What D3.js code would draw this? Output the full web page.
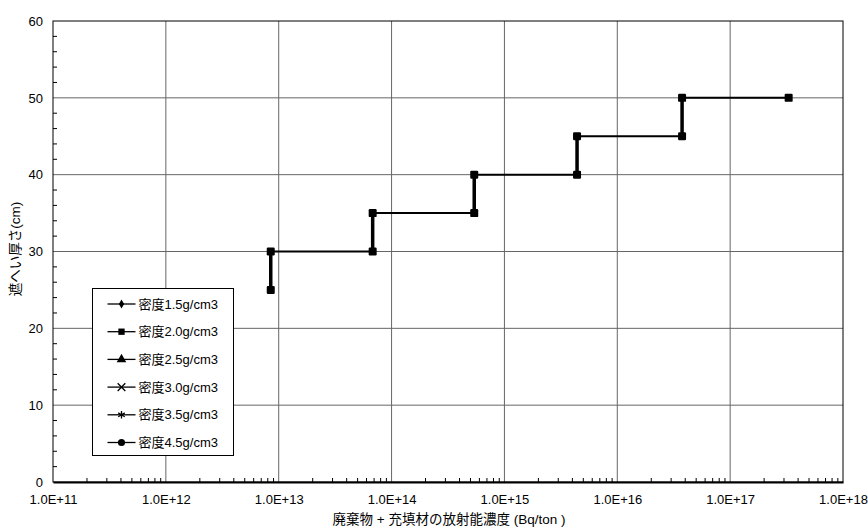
<!DOCTYPE html>
<html>
<head>
<meta charset="utf-8">
<script src="https://cdn.jsdelivr.net/npm/d3@7"></script>
<style>
  body { margin: 0; background: #fff; }
  svg text { font-family: "Liberation Sans", Arial, "Noto Sans CJK JP", sans-serif; fill: #000; }
</style>
</head>
<body>
<div id="chart"></div>
<script>
// step curve of shield thickness vs activity concentration
const concValues = [8.5e12, 8.5e12, 6.8e13, 6.8e13, 5.4e14, 5.4e14, 4.4e15, 4.4e15, 3.75e16, 3.75e16, 3.3e17];
const thickValues = [25, 30, 30, 35, 35, 40, 40, 45, 45, 50, 50];
const xTickValues = [1e11, 1e12, 1e13, 1e14, 1e15, 1e16, 1e17, 1e18];
const yTickValues = [0, 10, 20, 30, 40, 50, 60];
const legendLabels = ["密度1.5g/cm3", "密度2.0g/cm3", "密度2.5g/cm3", "密度3.0g/cm3", "密度3.5g/cm3", "密度4.5g/cm3"];
const legendSymbols = ["diamond", "square", "triangle", "x", "star", "circle"];

const width = 868, height = 529;
const margin = { top: 21, right: 25, bottom: 47, left: 53 };
const innerW = width - margin.left - margin.right;
const innerH = height - margin.top - margin.bottom;

const svg = d3.select("#chart").append("svg")
  .attr("width", width).attr("height", height);

const chart = svg.append("g")
  .attr("transform", `translate(${margin.left},${margin.top})`);

const xScale = d3.scaleLog().domain([1e11, 1e18]).range([0, innerW]);
const yScale = d3.scaleLinear().domain([0, 60]).range([innerH, 0]);

// gridlines
chart.append("g").selectAll("line")
  .data(xTickValues.slice(1, -1))
  .join("line")
  .attr("x1", d => xScale(d)).attr("x2", d => xScale(d))
  .attr("y1", 0).attr("y2", innerH)
  .attr("stroke", "#666").attr("stroke-width", 1);

chart.append("g").selectAll("line")
  .data(yTickValues.slice(1, -1))
  .join("line")
  .attr("x1", 0).attr("x2", innerW)
  .attr("y1", d => yScale(d)).attr("y2", d => yScale(d))
  .attr("stroke", "#666").attr("stroke-width", 1);

// plot border
chart.append("rect")
  .attr("width", innerW).attr("height", innerH)
  .attr("fill", "none").attr("stroke", "#000").attr("stroke-width", 1);

// minor ticks (inside)
const yMinor = d3.range(0, 61, 2).filter(v => v % 10 !== 0);
chart.append("g").selectAll("line")
  .data(yMinor)
  .join("line")
  .attr("x1", 0).attr("x2", 4)
  .attr("y1", d => yScale(d)).attr("y2", d => yScale(d))
  .attr("stroke", "#000");

const xMinor = [];
for (let e = 11; e < 18; e++) for (let m = 2; m <= 9; m++) xMinor.push(m * Math.pow(10, e));
chart.append("g").selectAll("line")
  .data(xMinor)
  .join("line")
  .attr("x1", d => xScale(d)).attr("x2", d => xScale(d))
  .attr("y1", innerH).attr("y2", innerH - 4)
  .attr("stroke", "#000");

// axes
const xAxis = d3.axisBottom(xScale).tickValues(xTickValues).tickSize(0)
  .tickFormat(d => "1.0E+" + Math.round(Math.log10(d)));
const yAxis = d3.axisLeft(yScale).tickValues(yTickValues).tickSize(0);

chart.append("g")
  .attr("transform", `translate(0,${innerH})`)
  .call(xAxis)
  .call(g => g.select(".domain").attr("stroke", "#000").attr("stroke-width", 2))
  .call(g => g.selectAll("text").attr("y", 13).attr("dy", "0.71em").attr("font-size", 13)
    .style("font-family", "'Liberation Sans', Arial, sans-serif"));

chart.append("g")
  .call(yAxis)
  .call(g => g.select(".domain").remove())
  .call(g => g.selectAll("text").attr("x", -10).attr("font-size", 13)
    .style("font-family", "'Liberation Sans', Arial, sans-serif"));

// data line
const pts = concValues.map((c, i) => ({ x: c, y: thickValues[i] }));
const line = d3.line().x(d => xScale(d.x)).y(d => yScale(d.y));

chart.append("path")
  .datum(pts)
  .attr("d", line)
  .attr("fill", "none").attr("stroke", "#000").attr("stroke-width", 2);

// vertical risers drawn heavier (overlapping series)
const risers = pts.slice(1).map((p, i) => [pts[i], p]).filter(([a, b]) => a.x === b.x);
chart.append("g").selectAll("path")
  .data(risers)
  .join("path")
  .attr("d", line)
  .attr("stroke", "#000").attr("stroke-width", 3.5);

chart.append("g").selectAll("rect")
  .data(pts)
  .join("rect")
  .attr("x", d => xScale(d.x) - 4).attr("y", d => yScale(d.y) - 4)
  .attr("width", 8).attr("height", 8).attr("rx", 1.2)
  .attr("fill", "#000");

// legend
const legend = svg.append("g").attr("transform", "translate(92.5,288.5)");
legend.append("rect")
  .attr("width", 141).attr("height", 167)
  .attr("fill", "#fff").attr("stroke", "#000").attr("stroke-width", 1);

const symbolMap = {
  diamond: d3.symbolDiamond, square: d3.symbolSquare, triangle: d3.symbolTriangle,
  x: d3.symbolTimes, star: d3.symbolAsterisk, circle: d3.symbolCircle
};

const items = legend.selectAll("g.item")
  .data(legendLabels)
  .join("g")
  .attr("class", "item")
  .attr("transform", (d, i) => `translate(0,${15.5 + i * 27.7})`);

items.append("line")
  .attr("x1", 15).attr("x2", 43)
  .attr("stroke", "#000").attr("stroke-width", 1.3);

items.append("path")
  .attr("transform", "translate(29,0)")
  .attr("d", (d, i) => {
    const s = legendSymbols[i];
    const size = s === "x" || s === "star" ? 40 : (s === "diamond" ? 24 : 40);
    return d3.symbol(symbolMap[s], size)();
  })
  .attr("fill", (d, i) => ["x", "star"].includes(legendSymbols[i]) ? "none" : "#000")
  .attr("stroke", "#000")
  .attr("stroke-width", (d, i) => ["x", "star"].includes(legendSymbols[i]) ? 1.3 : 0);

items.append("text")
  .attr("x", 46).attr("dy", "0.36em")
  .attr("font-size", 13)
  .text(d => d);

// axis titles
svg.append("text")
  .attr("transform", `translate(20,249) rotate(-90)`)
  .attr("text-anchor", "middle")
  .attr("font-size", 13.5)
  .text("遮へい厚さ(cm)");

svg.append("text")
  .attr("x", 449).attr("y", 524)
  .attr("text-anchor", "middle")
  .attr("font-size", 13.5)
  .text("廃棄物 + 充填材の放射能濃度 (Bq/ton )");
</script>
</body>
</html>
